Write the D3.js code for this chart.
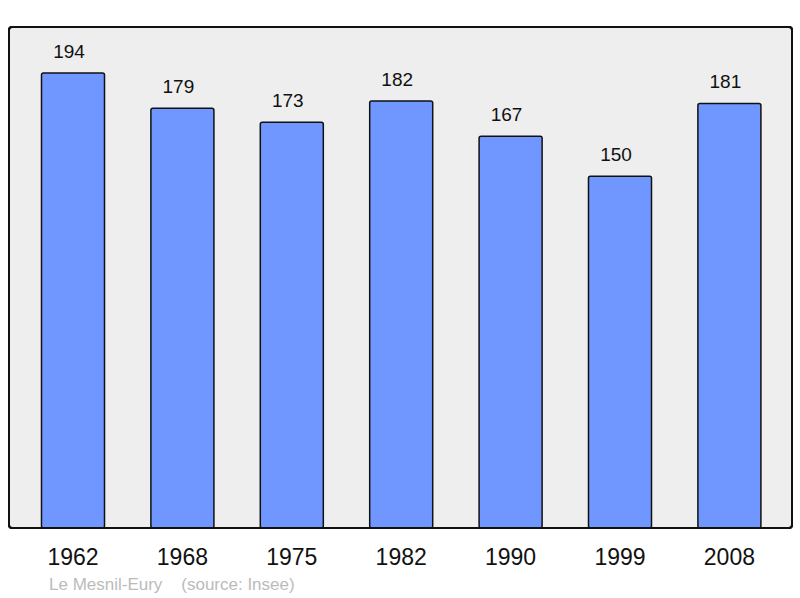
<!DOCTYPE html>
<html><head><meta charset="utf-8">
<script src="https://cdn.jsdelivr.net/npm/d3@7"></script>
<style>body{margin:0;background:#fff}svg{display:block}</style>
</head><body>
<script>
const years = ["1962","1968","1975","1982","1990","1999","2008"];
const population = [194,179,173,182,167,150,181];
const caption = "Le Mesnil-Eury    (source: Insee)";

const W = 800, H = 598;
const svg = d3.select("body").append("svg").attr("width", W).attr("height", H);
const font = "Liberation Sans, Arial, sans-serif";

const panel = {x: 9, y: 27, w: 783, h: 501};
svg.append("rect").attr("x", panel.x).attr("y", panel.y).attr("width", panel.w).attr("height", panel.h)
  .attr("rx", 3).attr("fill", "#eeeeee").attr("stroke", "#111").attr("stroke-width", 2);

const x = d3.scaleBand().domain(years).range([18.3, 784.1]).paddingInner(0.424).paddingOuter(0.212);
const y = d3.scaleLinear().domain([0, 213.6]).range([528, 27]);

svg.selectAll("rect.bar").data(years).join("rect").attr("class", "bar")
  .attr("x", d => x(d)).attr("width", x.bandwidth())
  .attr("y", (d, i) => y(population[i])).attr("height", (d, i) => y(0) - y(population[i]))
  .attr("rx", 2).attr("fill", "#7097ff").attr("stroke", "#111").attr("stroke-width", 1.5);

svg.selectAll("text.val").data(years).join("text").attr("class", "val")
  .attr("x", d => x(d) + x.bandwidth() / 2 - 4)
  .attr("y", (d, i) => y(population[i]) - 15)
  .attr("text-anchor", "middle").attr("font-family", font).attr("font-size", 19).attr("fill", "#111")
  .text((d, i) => population[i]);

svg.append("rect").attr("x", panel.x).attr("y", panel.y).attr("width", panel.w).attr("height", panel.h)
  .attr("rx", 3).attr("fill", "none").attr("stroke", "#111").attr("stroke-width", 2);

svg.selectAll("text.year").data(years).join("text").attr("class", "year")
  .attr("x", d => x(d) + x.bandwidth() / 2).attr("y", 565)
  .attr("text-anchor", "middle").attr("font-family", font).attr("font-size", 23).attr("fill", "#111")
  .text(d => d);

svg.append("text").attr("x", 49).attr("y", 590).attr("font-family", font).attr("font-size", 17)
  .attr("fill", "#bbbbbb").style("white-space", "pre").text(caption);
</script>
</body></html>
